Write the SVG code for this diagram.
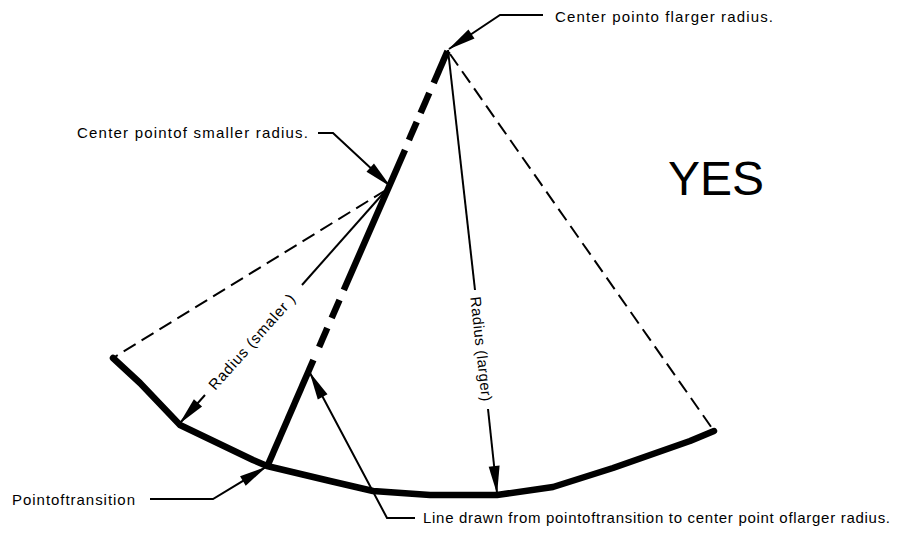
<svg xmlns="http://www.w3.org/2000/svg" width="924" height="537" viewBox="0 0 924 537">
<style>
.thick{fill:none;stroke:#000;stroke-width:6.5;stroke-linecap:round;stroke-linejoin:round}
.thickd{fill:none;stroke:#000;stroke-width:6.5;stroke-linecap:butt}
.thin{fill:none;stroke:#000;stroke-width:2}
.dash{fill:none;stroke:#000;stroke-width:2;stroke-dasharray:14 7}
.lead{fill:none;stroke:#000;stroke-width:2;stroke-linejoin:miter}
.lbl{font-family:"Liberation Sans",Arial,sans-serif;font-size:15px;fill:#000}
.big{font-family:"Liberation Sans",Arial,sans-serif;font-size:48px;fill:#000}
</style>
<defs>
<marker id="ah" markerUnits="userSpaceOnUse" markerWidth="30" markerHeight="14" refX="27" refY="6" orient="auto" overflow="visible">
<path d="M0,0.5 L28,6 L0,11.5 z" fill="#000"/>
</marker>
</defs>
<rect width="924" height="537" fill="#fff"/>
<g id="geometry">
<polyline class="thick" points="113,358 140,383 180,425 253,460 267,466 330,481 373,491 430,495 497,495 553,487 613,468 690,441 714,431"/>
<line class="dash" x1="386" y1="190" x2="113" y2="358"/>
<line class="dash" x1="450" y1="54" x2="714" y2="431"/>
<line class="thin" x1="388" y1="188" x2="302" y2="285"/>
<line class="thin" x1="448" y1="50" x2="475" y2="290"/>
<line class="thickd" x1="267" y1="467" x2="313.4" y2="360"/>
<line class="thickd" x1="319.1" y1="347" x2="327.3" y2="328"/>
<line class="thickd" x1="331.7" y1="318" x2="339.5" y2="300"/>
<line class="thickd" x1="343.8" y1="290" x2="405" y2="150"/>
<line class="thickd" x1="408.9" y1="140" x2="416.7" y2="122"/>
<line class="thickd" x1="420.6" y1="113" x2="429.3" y2="93"/>
<line class="thickd" x1="433.7" y1="83" x2="447.5" y2="51"/>
</g>
<g id="connectors">
<polyline class="lead" points="543,15 500,15 449,49" marker-end="url(#ah)"/>
<polyline class="lead" points="318,133 333,133 390,186" marker-end="url(#ah)"/>
<polyline class="lead" points="150,499 213,499 266,467" marker-end="url(#ah)"/>
<polyline class="lead" points="415,518 387,518 310,373" marker-end="url(#ah)"/>
<line class="thin" x1="205" y1="395" x2="180" y2="423" marker-end="url(#ah)"/>
<line class="thin" x1="488" y1="409" x2="497" y2="493" marker-end="url(#ah)"/>
</g>
<g id="label-larger-center"><text class="lbl" x="555" y="22" textLength="218" lengthAdjust="spacing">Center pointo flarger radius.</text></g>
<g id="label-smaller-center"><text class="lbl" x="77" y="138" textLength="231" lengthAdjust="spacing">Center pointof smaller radius.</text></g>
<g id="label-transition"><text class="lbl" x="12" y="505" textLength="123" lengthAdjust="spacing">Pointoftransition</text></g>
<g id="label-line-drawn"><text class="lbl" x="423" y="523" textLength="467" lengthAdjust="spacing">Line drawn from pointoftransition to center point oflarger radius.</text></g>
<g id="label-radius-smaller"><text class="lbl" transform="translate(252,342) rotate(-48.5)" x="0" y="5" text-anchor="middle" textLength="122" lengthAdjust="spacing">Radius (smaler )</text></g>
<g id="label-radius-larger"><text class="lbl" transform="translate(481,349) rotate(83.7)" x="0" y="5" text-anchor="middle" textLength="105" lengthAdjust="spacing">Radius (larger)</text></g>
<g id="label-yes"><text class="big" x="668" y="195">YES</text></g>
</svg>
